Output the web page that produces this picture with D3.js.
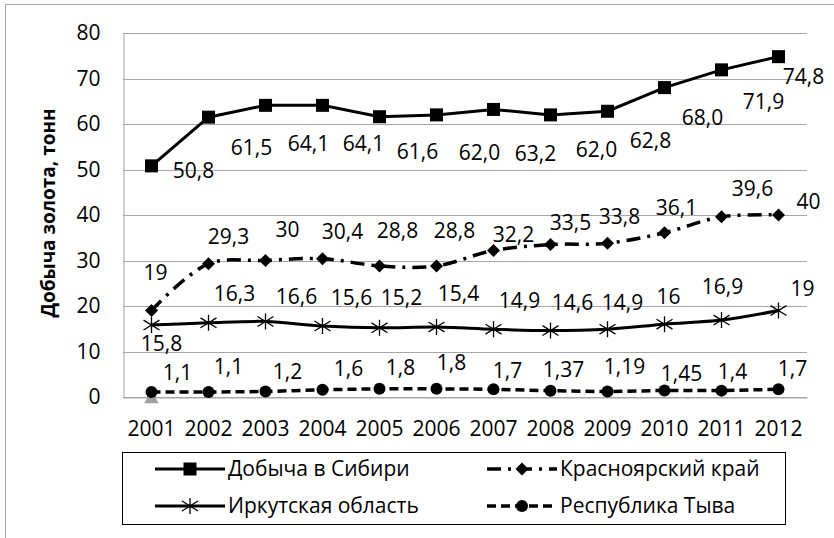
<!DOCTYPE html>
<html>
<head>
<meta charset="utf-8">
<script src="https://cdn.jsdelivr.net/npm/d3@7"></script>
<style>
  html, body { margin: 0; padding: 0; background: #fff; }
  svg { display: block; }
  text { font-family: "Open Sans", "Noto Sans", sans-serif; fill: #000; }
</style>
</head>
<body>
<svg id="chart" width="834" height="538"></svg>
<script>
// Gold production in Siberia by region, tonnes
const years = ["2001","2002","2003","2004","2005","2006","2007","2008","2009","2010","2011","2012"];
const siberia     = [50.8, 61.5, 64.1, 64.1, 61.6, 62.0, 63.2, 62.0, 62.8, 68.0, 71.9, 74.8];
const krasnoyarsk = [19, 29.3, 30, 30.4, 28.8, 28.8, 32.2, 33.5, 33.8, 36.1, 39.6, 40];
const irkutsk     = [15.8, 16.3, 16.6, 15.6, 15.2, 15.4, 14.9, 14.6, 14.9, 16, 16.9, 19];
const tyva        = [1.1, 1.1, 1.2, 1.6, 1.8, 1.8, 1.7, 1.37, 1.19, 1.45, 1.4, 1.7];
const siberiaLabels     = ["50,8","61,5","64,1","64,1","61,6","62,0","63,2","62,0","62,8","68,0","71,9","74,8"];
const krasnoyarskLabels = ["19","29,3","30","30,4","28,8","28,8","32,2","33,5","33,8","36,1","39,6","40"];
const irkutskLabels     = ["15,8","16,3","16,6","15,6","15,2","15,4","14,9","14,6","14,9","16","16,9","19"];
const tyvaLabels        = ["1,1","1,1","1,2","1,6","1,8","1,8","1,7","1,37","1,19","1,45","1,4","1,7"];
const seriesNames = ["Добыча в Сибири","Красноярский край","Иркутская область","Республика Тыва"];
const yTicks = [0, 10, 20, 30, 40, 50, 60, 70, 80];
const yTitle = "Добыча золота, тонн";
// stray grey marker sitting at zero in the first year
const extraMarker = [{ year: "2001", value: 0 }];

// data label nudges (label centre relative to its point, px)
const sibNudge = [[42,5],[43,30],[43,38],[41,38],[38,35],[43,38],[42,44],[46,35],[43,29],[38,30],[42,32],[25,20]];
const krsNudge = [[4,-38],[20,-27],[22,-31],[20,-27],[18,-35],[18,-35],[20,-16],[20,-22],[12,-27],[12,-25],[31,-28],[30,-13]];
const irkNudge = [[10,18],[26,-29],[31,-25],[29,-29],[22,-30],[22,-33],[26,-29],[22,-28],[15,-27],[4,-28],[1,-34],[24,-22]];
const tyvNudge = [[26,-19],[20,-25],[22,-20],[26,-21],[21,-21],[15,-26],[14,-19],[13,-21],[17,-25],[17,-17],[11,-19],[14,-21]];

const svg = d3.select("#chart");
const W = 834, H = 538;
const plot = { left: 123, right: 807, top: 33, bottom: 397 };
const FS = 21;
const FONT = "'Open Sans', 'Noto Sans', sans-serif";

// outer chart border (extends past the right and bottom edges)
svg.append("rect")
  .attr("x", 5.5).attr("y", 4.5)
  .attr("width", W + 20).attr("height", H + 20)
  .attr("fill", "#fff").attr("stroke", "#a6a6a6").attr("stroke-width", 1);

const x = d3.scaleBand().domain(years).range([plot.left, plot.right]);
const cx = d => x(d) + x.bandwidth() / 2;
const y = d3.scaleLinear().domain([0, 80]).range([plot.bottom, plot.top]);

// gridlines
svg.append("g").selectAll("line").data(yTicks).join("line")
  .attr("x1", plot.left).attr("x2", plot.right)
  .attr("y1", d => Math.round(y(d)) + 0.5).attr("y2", d => Math.round(y(d)) + 0.5)
  .attr("stroke", "#a6a6a6").attr("stroke-width", 1);

// y axis
const yAxis = d3.axisLeft(y).tickValues(yTicks).tickSize(0).tickPadding(23);
const gy = svg.append("g").attr("transform", `translate(${plot.left + 0.5},0)`).call(yAxis);
gy.select(".domain").attr("stroke", "#a6a6a6").attr("stroke-width", 1);
gy.selectAll("text").attr("font-size", FS).attr("font-family", FONT).attr("fill", "#000");

// x axis
const xAxis = d3.axisBottom(x).tickSize(0).tickPadding(24);
const gx = svg.append("g").attr("transform", `translate(0,${plot.bottom + 0.5})`).call(xAxis);
gx.select(".domain").attr("stroke", "#a6a6a6").attr("stroke-width", 1);
gx.selectAll("text").attr("font-size", FS).attr("font-family", FONT).attr("fill", "#000");

// y title
svg.append("text")
  .attr("transform", `translate(55,${(plot.top + plot.bottom) / 2 - 2}) rotate(-90)`)
  .attr("text-anchor", "middle")
  .attr("font-size", 19).attr("font-weight", "bold")
  .text(yTitle);

// extra grey triangle
const tri = d3.symbol().type(d3.symbolTriangle).size(90);
svg.append("g").selectAll("path").data(extraMarker).join("path")
  .attr("d", tri)
  .attr("transform", d => `translate(${cx(d.year)},${y(d.value) + 2})`)
  .attr("fill", "#a0a0a0");

const pts = vals => vals.map((v, i) => [cx(years[i]), y(v)]);

// lines
const straight = d3.line();
const smooth = d3.line().curve(d3.curveCatmullRom.alpha(0.5));

svg.append("path").attr("d", straight(pts(tyva)))
  .attr("fill", "none").attr("stroke", "#000").attr("stroke-width", 3.5)
  .attr("stroke-dasharray", "9,5");
svg.append("path").attr("d", smooth(pts(irkutsk)))
  .attr("fill", "none").attr("stroke", "#000").attr("stroke-width", 3);
svg.append("path").attr("d", smooth(pts(krasnoyarsk)))
  .attr("fill", "none").attr("stroke", "#000").attr("stroke-width", 3.5)
  .attr("stroke-dasharray", "14,7,3,7");
svg.append("path").attr("d", straight(pts(siberia)))
  .attr("fill", "none").attr("stroke", "#000").attr("stroke-width", 3);

// markers
function drawSquare(g, px, py) {
  g.append("rect").attr("x", px - 6.5).attr("y", py - 6.5).attr("width", 13).attr("height", 13).attr("fill", "#000");
}
function drawDiamond(g, px, py) {
  g.append("path").attr("d", `M${px},${py - 6.5}L${px + 6.5},${py}L${px},${py + 6.5}L${px - 6.5},${py}Z`).attr("fill", "#000");
}
function drawStar(g, px, py) {
  const r = 8;
  g.append("path")
    .attr("d", `M${px - r},${py - r * 0.62}L${px + r},${py + r * 0.62}M${px - r},${py + r * 0.62}L${px + r},${py - r * 0.62}M${px},${py - r}L${px},${py + r}`)
    .attr("stroke", "#000").attr("stroke-width", 1.3).attr("fill", "none");
}
function drawDot(g, px, py) {
  g.append("circle").attr("cx", px).attr("cy", py).attr("r", 6).attr("fill", "#000");
}

const mg = svg.append("g");
pts(tyva).forEach(p => drawDot(mg, p[0], p[1]));
pts(irkutsk).forEach(p => drawStar(mg, p[0], p[1]));
pts(krasnoyarsk).forEach(p => drawDiamond(mg, p[0], p[1]));
pts(siberia).forEach(p => drawSquare(mg, p[0], p[1]));

// data labels
function drawLabels(vals, labels, nudge) {
  svg.append("g").selectAll("text").data(vals).join("text")
    .attr("x", (v, i) => cx(years[i]) + nudge[i][0])
    .attr("y", (v, i) => y(v) + nudge[i][1] + FS * 0.357)
    .attr("text-anchor", "middle")
    .attr("font-size", FS)
    .text((v, i) => labels[i]);
}
drawLabels(siberia, siberiaLabels, sibNudge);
drawLabels(krasnoyarsk, krasnoyarskLabels, krsNudge);
drawLabels(irkutsk, irkutskLabels, irkNudge);
drawLabels(tyva, tyvaLabels, tyvNudge);

// legend
const lg = svg.append("g");
lg.append("rect").attr("x", 122.5).attr("y", 452.5).attr("width", 663).attr("height", 72)
  .attr("fill", "#fff").attr("stroke", "#000").attr("stroke-width", 1);
const legendItems = [
  { name: seriesNames[0], x: 155, y: 469, dash: null, w: 3, mark: drawSquare },
  { name: seriesNames[1], x: 487, y: 469, dash: "14,7,3,7", w: 3.5, mark: drawDiamond },
  { name: seriesNames[2], x: 155, y: 506, dash: null, w: 3, mark: drawStar },
  { name: seriesNames[3], x: 487, y: 506, dash: "9,5", w: 3.5, mark: drawDot }
];
legendItems.forEach(it => {
  lg.append("line").attr("x1", it.x).attr("x2", it.x + 70).attr("y1", it.y).attr("y2", it.y)
    .attr("stroke", "#000").attr("stroke-width", it.w)
    .attr("stroke-dasharray", it.dash);
  it.mark(lg, it.x + 35, it.y);
  lg.append("text").attr("x", it.x + 73).attr("y", it.y + FS * 0.357)
    .attr("font-size", FS).text(it.name);
});
</script>
</body>
</html>
